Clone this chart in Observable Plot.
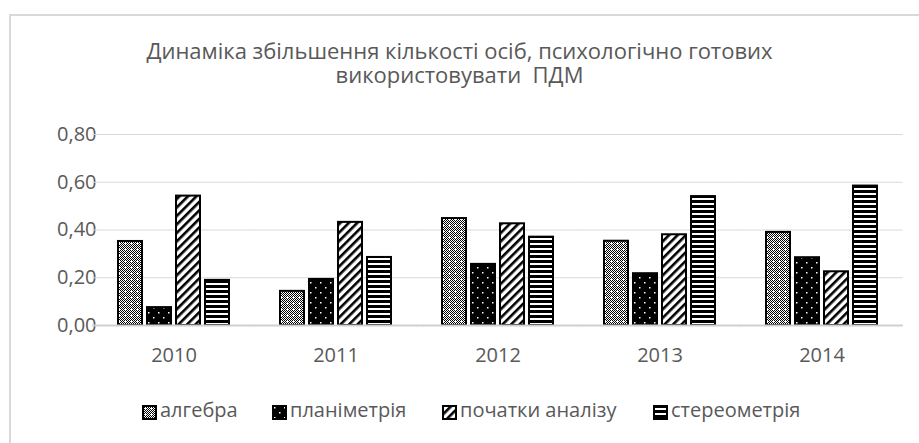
<!DOCTYPE html>
<html>
<head>
<meta charset="utf-8">
<script src="https://cdn.jsdelivr.net/npm/d3@7"></script>
<script src="https://cdn.jsdelivr.net/npm/@observablehq/plot@0.6"></script>
<style>
  body { margin: 0; background: #fff; }
  #wrap { position: relative; width: 919px; height: 443px; overflow: hidden; background: #fff; font-family: 'Open Sans', sans-serif; }
  #frame { position: absolute; left: 9px; top: 14px; width: 940px; height: 460px; border-left: 2px solid #d9d9d9; border-top: 2px solid #d9d9d9; box-sizing: border-box; }
  #title { position: absolute; left: 0; top: 37.5px; width: 919px; text-align: center; font-size: 22px; line-height: 24px; color: #595959; white-space: pre; }
  #chart { position: absolute; left: 0; top: 0; }
  #legend { position: absolute; left: 0; top: 400px; width: 919px; height: 24px; font-size: 20px; line-height: 20px; color: #595959; white-space: nowrap; }
  .item { position: absolute; top: 0; display: flex; align-items: flex-start; }
  .item svg { margin-top: 5px; margin-right: 3px; }
</style>
</head>
<body>
<svg width="0" height="0" style="position:absolute">
  <defs id="pdefs"></defs>
</svg>
<div id="wrap">
  <div id="frame"></div>
  <div id="title">Динаміка збільшення кількості осіб, психологічно готових
використовувати  ПДМ</div>
  <div id="chart"></div>
  <div id="legend"></div>
</div>
<script>
// ---- data ----
const years = ["2010", "2011", "2012", "2013", "2014"];
const series = ["алгебра", "планіметрія", "початки аналізу", "стереометрія"];
const algebra  = [0.352, 0.143, 0.448, 0.353, 0.390];
const planim   = [0.075, 0.193, 0.256, 0.217, 0.284];
const analysis = [0.542, 0.432, 0.426, 0.380, 0.225];
const stereo   = [0.189, 0.285, 0.370, 0.540, 0.584];
const yTicks = [0, 0.2, 0.4, 0.6, 0.8];

const valuesBySeries = [algebra, planim, analysis, stereo];
const table = [];
years.forEach((yr, i) => series.forEach((s, j) => table.push({year: yr, series: s, value: valuesBySeries[j][i]})));

// ---- patterns ----
const defs = d3.select("#pdefs");
{
  const p = defs.append("pattern").attr("id", "p0").attr("patternUnits", "userSpaceOnUse").attr("width", 6).attr("height", 6);
  p.append("rect").attr("width", 6).attr("height", 6).attr("fill", "#fff");
  for (let y = 0; y < 6; y++) for (let x = 0; x < 6; x++) if ((x + y) % 2 === 0)
    p.append("rect").attr("x", x).attr("y", y).attr("width", 1).attr("height", 1).attr("fill", "#000");
  p.append("rect").attr("x", 2).attr("y", 3).attr("width", 3).attr("height", 1).attr("fill", "#fff");
  p.append("rect").attr("x", 3).attr("y", 2).attr("width", 1).attr("height", 3).attr("fill", "#fff");
}
{
  const p = defs.append("pattern").attr("id", "p1").attr("patternUnits", "userSpaceOnUse").attr("width", 10).attr("height", 10);
  p.append("rect").attr("width", 10).attr("height", 10).attr("fill", "#000");
  p.append("rect").attr("x", 2).attr("y", 2).attr("width", 1.5).attr("height", 1.5).attr("fill", "#fff");
  p.append("rect").attr("x", 7).attr("y", 7).attr("width", 1.5).attr("height", 1.5).attr("fill", "#fff");
}
{
  const p = defs.append("pattern").attr("id", "p2").attr("patternUnits", "userSpaceOnUse").attr("width", 6).attr("height", 6).attr("patternTransform", "rotate(45)");
  p.append("rect").attr("width", 6).attr("height", 6).attr("fill", "#fff");
  p.append("rect").attr("width", 2.6).attr("height", 6).attr("fill", "#000");
}
{
  const p = defs.append("pattern").attr("id", "p3").attr("patternUnits", "userSpaceOnUse").attr("width", 5).attr("height", 5);
  p.append("rect").attr("width", 5).attr("height", 5).attr("fill", "#fff");
  p.append("rect").attr("width", 5).attr("height", 3).attr("fill", "#000");
}
const patternUrls = ["url(#p0)", "url(#p1)", "url(#p2)", "url(#p3)"];

// ---- layout ----
const W = 919, H = 443, mL = 91, mR = 15, mT = 134, mB = 118;
const fxPadIn = 0.305, fxPadOut = 0.1525;
const fxStep = (W - mL - mR) / (years.length - fxPadIn + 2 * fxPadOut);
const gapHalf = fxStep * fxPadIn / 2;
const fmt = d => d.toFixed(2).replace(".", ",");

const chart = Plot.plot({
  width: W, height: H,
  marginTop: mT, marginBottom: mB, marginLeft: mL, marginRight: mR,
  style: {fontFamily: "'Open Sans', sans-serif", fontSize: "20px", color: "#595959", background: "transparent", overflow: "visible"},
  fx: {domain: years, paddingInner: fxPadIn, paddingOuter: fxPadOut, axis: "bottom", label: null, tickSize: 0, tickPadding: 22},
  x: {domain: series, paddingInner: 0.17, paddingOuter: 0, axis: null},
  y: {domain: [0, 0.8], ticks: yTicks, tickFormat: fmt, tickSize: 0, tickPadding: 21, label: null},
  color: {domain: series, range: patternUrls},
  marks: [
    Plot.ruleY(yTicks, {stroke: "#d9d9d9", strokeWidth: 1, insetLeft: -gapHalf, insetRight: -gapHalf}),
    Plot.barY(table, {fx: "year", x: "series", y: "value", fill: "series", stroke: "#000", strokeWidth: 2}),
    Plot.ruleY([0], {stroke: "#d0d0d0", strokeWidth: 2, insetLeft: -gapHalf, insetRight: -gapHalf})
  ]
});
document.getElementById("chart").appendChild(chart);

// ---- legend ----
const legendX = [142, 272, 442, 653];
const legend = d3.select("#legend");
series.forEach((s, i) => {
  const it = legend.append("div").attr("class", "item").style("left", legendX[i] + "px");
  const sw = it.append("svg").attr("width", 15).attr("height", 15);
  sw.append("rect").attr("x", 1).attr("y", 1).attr("width", 13).attr("height", 13).attr("fill", patternUrls[i]).attr("stroke", "#000").attr("stroke-width", 2);
  it.append("span").text(s);
});
</script>
</body>
</html>
